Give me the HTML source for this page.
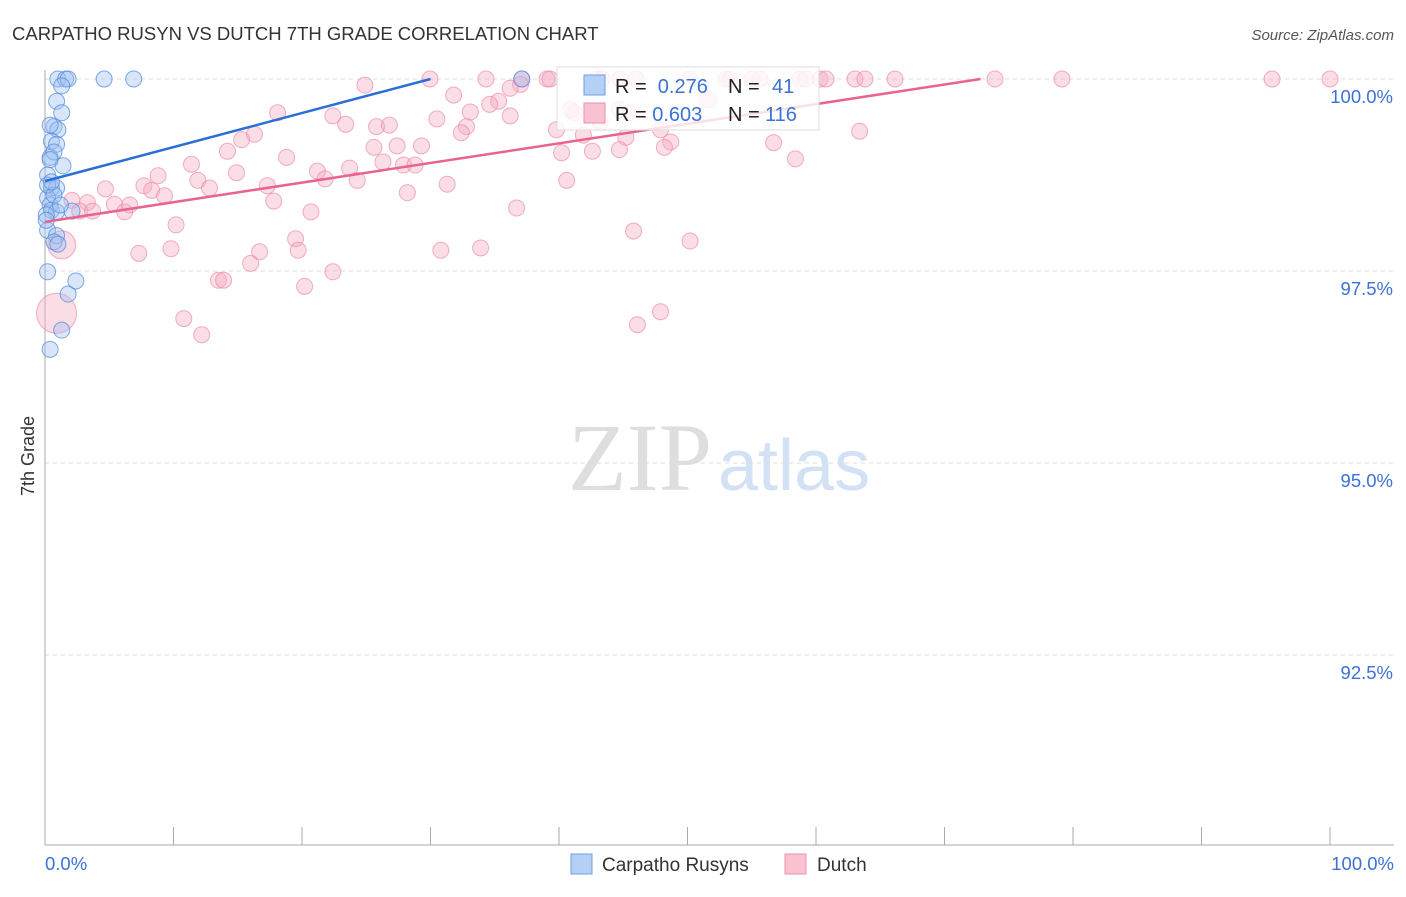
<!DOCTYPE html>
<html><head><meta charset="utf-8"><style>
body{margin:0;background:#fff;font-family:"Liberation Sans",sans-serif}
</style></head><body>
<svg width="1406" height="892" xmlns="http://www.w3.org/2000/svg">
<text x="12" y="40" font-size="18.5" fill="#333">CARPATHO RUSYN VS DUTCH 7TH GRADE CORRELATION CHART</text>
<text x="1394" y="40" font-size="15" fill="#555" text-anchor="end" font-style="italic">Source: ZipAtlas.com</text>
<text x="712" y="490" font-size="96" fill="#dedede" text-anchor="end" font-family="Liberation Serif">ZIP</text>
<text x="718" y="490" font-size="72" fill="#d3e1f5">atlas</text>
<text transform="translate(34,456) rotate(-90)" font-size="18" fill="#333" text-anchor="middle">7th Grade</text>
<g id="grid"></g><g id="axes"></g><g id="pink"></g><g id="blue"></g><g id="lines"></g>
<g>
<rect x="557" y="67" width="262" height="63" fill="#fff" fill-opacity="0.8" stroke="#ddd"/>
<rect x="584" y="75" width="21" height="20" fill="#b5cff5" stroke="#6c9de0"/>
<rect x="584" y="103" width="21" height="20" fill="#f9c2d1" stroke="#ec8fab"/>
<text x="615" y="93" font-size="20" fill="#222">R = <tspan fill="#3b72d4">&#160;0.276</tspan><tspan x="728">N =</tspan><tspan x="772" fill="#3b72d4">41</tspan></text>
<text x="615" y="121" font-size="20" fill="#222">R = <tspan fill="#3b72d4">0.603</tspan><tspan x="728">N =</tspan><tspan x="765" fill="#3b72d4">116</tspan></text>
</g>
<g>
<rect x="571" y="854" width="21" height="20" fill="#b5cff5" stroke="#6c9de0"/>
<text x="602" y="871" font-size="19" fill="#333">Carpatho Rusyns</text>
<rect x="785" y="854" width="21" height="20" fill="#f9c2d1" stroke="#ec8fab"/>
<text x="817" y="871" font-size="19" fill="#333">Dutch</text>
</g>
</svg>
<script>
const yTicks=[100,97.5,95,92.5];
const yTickLabels=["100.0%","97.5%","95.0%","92.5%"];
const xTickLabels=["0.0%","100.0%"];
const blueX=[1.0,1.6,1.8,4.6,6.9,1.3,0.9,1.3,0.7,1.0,0.5,0.9,0.4,0.7,1.4,0.4,0.2,0.5,0.9,0.2,0.4,0.5,0.9,2.1,0.2,0.9,0.7,1.0,0.2,1.8,2.4,1.3,0.4,0.1,0.2,0.7,0.1,0.5,1.2,37.1,0.4];
const blueY=[100,100,100,100,100,99.91,99.71,99.56,99.38,99.34,99.19,99.15,98.98,99.05,98.87,98.95,98.75,98.58,98.58,98.45,98.36,98.29,98.27,98.28,98.03,97.96,97.88,97.85,97.49,97.20,97.37,96.73,96.48,98.23,98.62,98.49,98.16,98.66,98.36,100,99.40];
const pinkX=[29.96,34.32,37.12,39.07,39.30,42.96,43.35,44.75,45.99,50.19,53.00,53.31,55.02,55.64,58.75,59.22,60.31,60.78,63.04,63.81,66.15,73.93,79.14,95.49,100,
24.9,31.8,37.0,36.2,35.3,34.6,40.9,41.2,43.2,44.7,45.5,51.6,
18.1,22.4,23.4,33.1,36.2,30.5,32.8,32.4,25.8,26.8,39.8,41.9,45.2,47.9,48.7,48.2,56.7,63.4,58.4,42.6,40.2,44.7,
16.3,15.3,14.2,18.8,11.4,11.9,14.9,21.2,21.8,23.7,24.3,25.6,26.3,27.4,27.9,28.8,29.3,31.3,28.2,40.6,36.7,17.3,17.8,20.7,
4.7,7.7,8.3,8.8,9.3,12.8,5.4,6.2,6.6,3.3,2.1,2.7,3.7,10.2,
7.3,9.8,16.7,16.0,19.5,19.7,22.4,20.2,13.5,13.9,30.8,33.9,45.8,50.2,47.9,46.1,10.8,12.2,1.3,0.9];
const pinkY=[100,100,100,100,100,100,100,100,100,100,100,100,100,100,100,100,100,100,100,100,100,100,100,100,100,
99.92,99.79,99.93,99.88,99.71,99.67,99.60,99.56,99.44,99.60,99.56,99.73,
99.56,99.52,99.41,99.57,99.52,99.48,99.38,99.30,99.38,99.40,99.34,99.27,99.24,99.34,99.18,99.11,99.17,99.32,98.96,99.06,99.04,99.08,
99.28,99.21,99.06,98.98,98.89,98.68,98.78,98.80,98.70,98.84,98.68,99.11,98.92,99.13,98.88,98.88,99.13,98.63,98.52,98.68,98.32,98.61,98.41,98.27,
98.57,98.61,98.55,98.74,98.48,98.58,98.37,98.27,98.36,98.39,98.42,98.28,98.28,98.10,
97.73,97.79,97.75,97.60,97.92,97.77,97.49,97.30,97.38,97.38,97.77,97.80,98.02,97.89,96.97,96.80,96.88,96.67,97.84,96.95];
const pinkR={115:14,116:20};
const blueTrendX=[0,30];const blueTrendY=[98.67,100];
const pinkTrendX=[0,72.8];const pinkTrendY=[98.14,100];
const NS="http://www.w3.org/2000/svg";
const X=v=>45+v*12.85, Y=v=>79+(100-v)*76.8;
function mk(t,a,p){const e=document.createElementNS(NS,t);for(const k in a)e.setAttribute(k,a[k]);document.getElementById(p).appendChild(e);return e;}
yTicks.forEach((t,i)=>{
 const g=mk('line',{x1:45,x2:1394,y1:Y(t),y2:Y(t),stroke:'#ddd','stroke-dasharray':'4,4'},'grid');
 
 
 const tx=mk('text',{x:1393,y:Y(t)+24,'font-size':18.5,fill:'#3b72d4','text-anchor':'end'},'grid');
 tx.textContent=yTickLabels[i];
 
 
});
mk('line',{x1:45,x2:45,y1:70,y2:845,stroke:'#aaa'},'axes');
mk('line',{x1:45,x2:1394,y1:845,y2:845,stroke:'#aaa'},'axes');
for(let i=0;i<=10;i++){const l=mk('line',{x1:X(i*10),x2:X(i*10),y1:827,y2:845,stroke:'#aaa'},'axes');
 
 }
[[0,'start',45],[1,'end',1394]].forEach(([i,a,x])=>{const t=mk('text',{x:x,y:870,'font-size':18.5,fill:'#3b72d4','text-anchor':a},'axes');t.textContent=xTickLabels[i];
 
 });
pinkX.forEach((v,i)=>{const c=mk('circle',{cx:X(v),cy:Y(pinkY[i]),r:pinkR[i]||8,fill:'#f5a9c0','fill-opacity':0.4,stroke:'#ea87a6','stroke-opacity':0.65},'pink');
 
 });
blueX.forEach((v,i)=>{const c=mk('circle',{cx:X(v),cy:Y(blueY[i]),r:8,fill:'#9fc0f0','fill-opacity':0.4,stroke:'#4a86dd','stroke-opacity':0.7},'blue');
 
 });
const bl=mk('line',{x1:X(blueTrendX[0]),y1:Y(blueTrendY[0]),x2:X(blueTrendX[1]),y2:Y(blueTrendY[1]),stroke:'#2a6fd6','stroke-width':2.5},'lines');


const pl=mk('line',{x1:X(pinkTrendX[0]),y1:Y(pinkTrendY[0]),x2:X(pinkTrendX[1]),y2:Y(pinkTrendY[1]),stroke:'#e8648e','stroke-width':2.5},'lines');


</script>
</body></html>
